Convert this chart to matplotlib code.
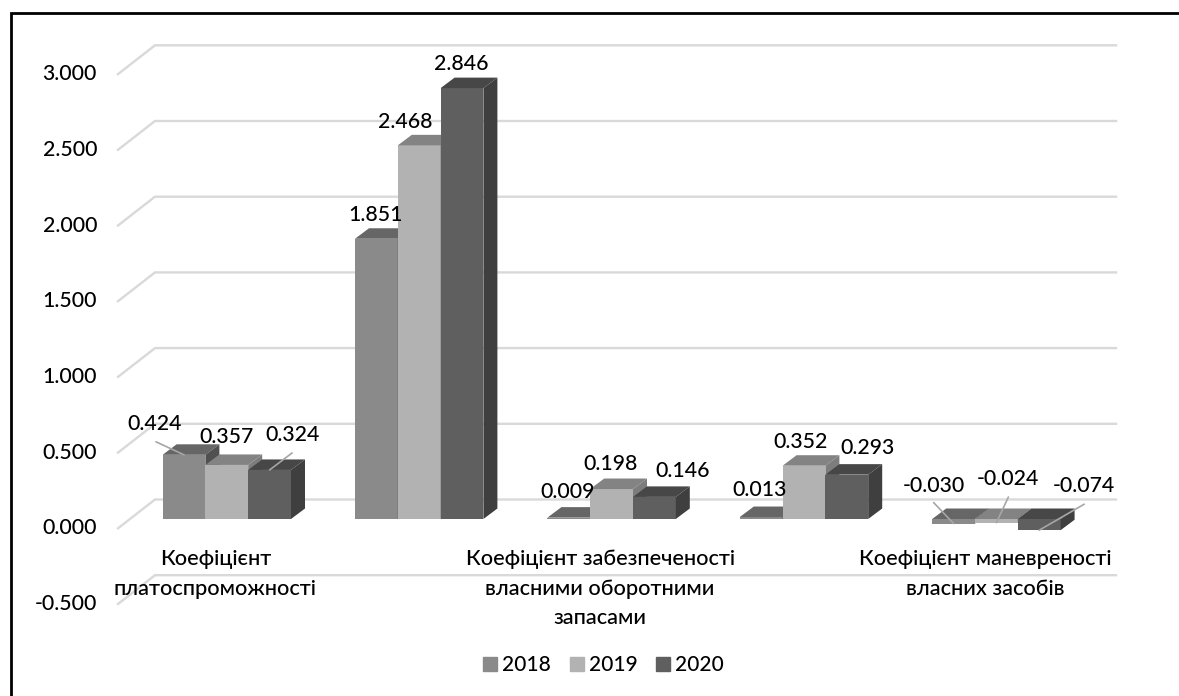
import matplotlib
matplotlib.use('Agg')
import matplotlib.pyplot as plt
import numpy as np

plt.rcParams['font.family'] = ['Lato', 'Open Sans', 'DejaVu Sans']
plt.rcParams['font.weight'] = 'medium'

years = ['2018', '2019', '2020']
values_2018 = [0.424, 1.851, 0.009, 0.013, -0.030]
values_2019 = [0.357, 2.468, 0.198, 0.352, -0.024]
values_2020 = [0.324, 2.846, 0.146, 0.293, -0.074]
tick_values = [-0.5, 0.0, 0.5, 1.0, 1.5, 2.0, 2.5, 3.0]
category_labels = ['Коефіцієнт\nплатоспроможності', '',
                   'Коефіцієнт забезпеченості\nвласними оборотними\nзапасами', '',
                   'Коефіцієнт маневреності\nвласних засобів']

# face colours per series: front, top, side
front_colors = ['#8a8a8a', '#b2b2b2', '#5f5f5f']
top_colors = ['#666666', '#838383', '#474747']
side_colors = ['#505050', '#7d7d7d', '#3f3f3f']

# label offsets from the middle of each bar's front top edge, in pixels
label_dx = [[-29.5, 0, 22.5], [-1, -14, -1], [-1.5, -1.5, 28], [-2, -3, 21], [-20, 12, 45]]
label_dy = [[31, 28, 35], [24, 23, 24], [25.6, 25, 26], [27, 24, 27], [37.5, 43.6, 44]]
# bars that get a leader line: (group, series, start dx, start dy)
leaders = [(0, 0, -28, 13), (0, 2, 22.5, 17), (4, 0, -20, 21), (4, 1, 12, 25.6), (4, 2, 45, 26)]

W, H = 1179, 696
PX_PER_CAT = 192.4
PX_PER_UNIT = 151.4
ZERO_X, ZERO_Y = 226.8, 519.0
NUM_SIZE = 15.3
TEXT_SIZE = 15.7


def xdata(px):
    return (px - ZERO_X) / PX_PER_CAT


def ydata(py):
    return (ZERO_Y - py) / PX_PER_UNIT


fig = plt.figure(figsize=(W / 100, H / 100), dpi=100)
ax = fig.add_axes([0, 0, 1, 1])
ax.set_xlim(xdata(0), xdata(W))
ax.set_ylim(ydata(H), ydata(0))
ax.axis('off')

bar_w = 42.8 / PX_PER_CAT
depth_x = 14 / PX_PER_CAT
depth_y = 10.5 / PX_PER_UNIT

# open frame: left and top edges only
ax.plot([xdata(11), xdata(11), xdata(W)], [ydata(H), ydata(13), ydata(13)],
        color='black', lw=2.0, solid_joinstyle='miter')

# back wall gridlines with the short diagonal toward the value labels
grid_color = '#d9d9d9'
grid_left = xdata(155)
grid_right = xdata(1116)
diag_left = xdata(118)
back_shift = 19.5 / PX_PER_UNIT
front_shift = -9.3 / PX_PER_UNIT
for v in tick_values:
    ax.plot([diag_left, grid_left, grid_right],
            [v + front_shift, v + back_shift, v + back_shift],
            color=grid_color, lw=1.7, zorder=1, solid_joinstyle='miter')
    ax.text(xdata(97), v + front_shift, f'{v:.3f}',
            ha='right', va='center', fontsize=NUM_SIZE, color='black', zorder=6)

series = [values_2018, values_2019, values_2020]
group_x = np.arange(len(category_labels))
for i, gx in enumerate(group_x):
    for j, vals in enumerate(series):
        v = vals[i]
        left = gx + (j - 1.5) * bar_w
        right = left + bar_w
        top = max(v, 0)
        bottom = min(v, 0)
        ax.bar(left, v, width=bar_w, align='edge', color=front_colors[j], zorder=3 + 0.1 * j)
        ax.fill([left, left + depth_x, right + depth_x, right],
                [top, top + depth_y, top + depth_y, top],
                color=top_colors[j], lw=0, zorder=3 + 0.1 * j)
        ax.fill([right, right + depth_x, right + depth_x, right],
                [top, top + depth_y, bottom + depth_y, bottom],
                color=side_colors[j], lw=0, zorder=3 + 0.1 * j)
        ax.annotate(f'{v:.3f}', xy=(left + bar_w / 2, v),
                    xytext=(label_dx[i][j], label_dy[i][j]), textcoords='offset pixels',
                    ha='center', va='center', fontsize=NUM_SIZE, color='black', zorder=7)

for i, j, dx, dy in leaders:
    v = series[j][i]
    x = group_x[i] + (j - 1) * bar_w
    ax.annotate('', xy=(x, v), xytext=(dx, dy), textcoords='offset pixels',
                arrowprops=dict(arrowstyle='-', color='#a6a6a6', lw=1.2, shrinkA=0, shrinkB=0),
                zorder=6)

# category captions sit below the floor, slightly left of each group
for gx, label in zip(group_x, category_labels):
    if label:
        ax.text(gx - 11.5 / PX_PER_CAT, ydata(549), label, ha='center', va='top',
                fontsize=TEXT_SIZE, linespacing=1.6, zorder=7)

# legend squares and year captions
handles = [plt.Rectangle((0, 0), 1, 1, color=c) for c in front_colors]
ax.legend(handles, years, loc='center', bbox_to_anchor=(603.5 / W, 1 - 665 / H), ncol=3,
          frameon=False, fontsize=15, handlelength=0.67, handleheight=0.67,
          handletextpad=0.25, columnspacing=0.9)

fig.savefig('out.png', dpi=100)
